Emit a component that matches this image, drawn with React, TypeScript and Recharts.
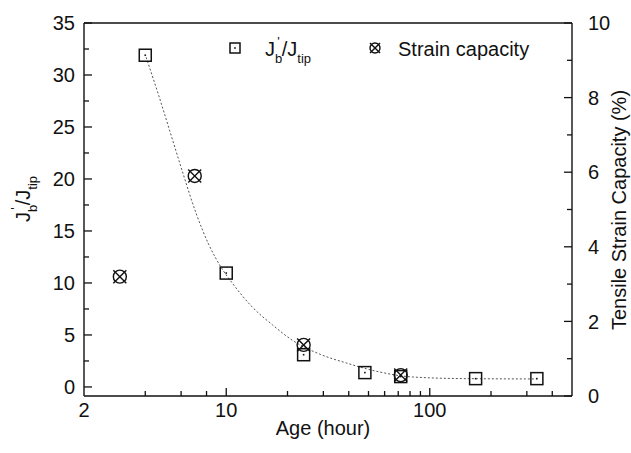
import { ScatterChart, Scatter, XAxis, YAxis, ReferenceLine } from 'recharts'

// J_b'/J_tip vs age (hour)
const ratioAge = [4, 10, 24, 48, 72, 168, 336]
const ratioValue = [31.9, 10.95, 3.1, 1.38, 1.0, 0.8, 0.8]

// tensile strain capacity (%) vs age (hour)
const strainAge = [3, 7, 24, 72]
const strainValue = [3.2, 5.9, 1.37, 0.56]

// dashed fitted curve
const fitAge = [4.04, 4.68, 5.36, 6.07, 7.11, 8.25, 9.44, 10.7, 13.4, 16.9, 21.1, 28.7, 39, 56.7, 82, 150, 336]
const fitValue = [31.7, 27.9, 24.2, 20.8, 16.7, 13.6, 11.5, 10.0, 7.7, 5.96, 4.5, 3.17, 2.3, 1.44, 0.96, 0.8, 0.77]

const xMajor = [2, 10, 100]
const xMinor = [4, 6, 8, 20, 30, 40, 50, 60, 70, 80, 90, 200, 300, 400]
const leftMajor = [0, 5, 10, 15, 20, 25, 30, 35]
const leftMinor = [2.5, 7.5, 12.5, 17.5, 22.5, 27.5, 32.5]
const rightMajor = [0, 2, 4, 6, 8, 10]
const rightMinor = [1, 3, 5, 7, 9]

const ratioData = ratioAge.map((x, i) => ({ x, y: ratioValue[i] }))
const strainData = strainAge.map((x, i) => ({ x, y: strainValue[i] }))
const fitData = fitAge.map((x, i) => ({ x, y: fitValue[i] }))

const FONT = '"Liberation Sans", Arial, sans-serif'
const TICK_FS = 20
const INK = '#111'

const SquareMark = ({ cx, cy, size = 12 }: any) => (
  <g>
    <rect x={cx - size / 2} y={cy - size / 2} width={size} height={size} fill="none" stroke={INK} strokeWidth={1.5} />
    <rect x={cx - 0.8} y={cy - 0.8} width={1.6} height={1.6} fill={INK} />
  </g>
)

const CrossCircle = ({ cx, cy, r = 6.5 }: any) => (
  <g stroke={INK} strokeWidth={1.4} fill="none">
    <circle cx={cx} cy={cy} r={r} />
    <line x1={cx - r} y1={cy - r} x2={cx + r} y2={cy + r} />
    <line x1={cx - r} y1={cy + r} x2={cx + r} y2={cy - r} />
  </g>
)

function BottomTick({ x, y, payload }: any) {
  const v = payload.value
  const major = xMajor.includes(v)
  const ay = y - 8
  return (
    <g>
      {v !== 2 && <line x1={x} x2={x} y1={ay} y2={ay - (major ? 8 : 5)} stroke={INK} strokeWidth={1.3} />}
      {major && (
        <text x={x} y={ay + 21} textAnchor="middle" fontSize={TICK_FS} fontFamily={FONT} fill={INK}>
          {v}
        </text>
      )}
    </g>
  )
}

function LeftTick({ x, y, payload }: any) {
  const v = payload.value
  const major = leftMajor.includes(v)
  const ax = x + 9
  return (
    <g>
      <line x1={ax} x2={ax + (major ? 8 : 5)} y1={y} y2={y} stroke={INK} strokeWidth={1.3} />
      {major && (
        <text x={x} y={y} dy="0.36em" textAnchor="end" fontSize={TICK_FS} fontFamily={FONT} fill={INK}>
          {v}
        </text>
      )}
    </g>
  )
}

function RightTick({ x, y, payload }: any) {
  const v = payload.value
  const major = rightMajor.includes(v)
  const ax = x - 16
  return (
    <g>
      <line x1={ax} x2={ax - (major ? 8 : 5)} y1={y} y2={y} stroke={INK} strokeWidth={1.3} />
      {major && (
        <text x={x} y={y} dy="0.36em" textAnchor="start" fontSize={TICK_FS} fontFamily={FONT} fill={INK}>
          {v}
        </text>
      )}
    </g>
  )
}

const JRatio = () => (
  <>
    J<tspan fontSize={13} dy={7}>b</tspan>
    <tspan fontSize={13} dx={-5} dy={-17}>'</tspan>
    <tspan fontSize={20} dx={2} dy={10}>/J</tspan>
    <tspan fontSize={13} dy={7}>tip</tspan>
  </>
)

export default function App() {
  return (
    <div style={{ position: 'relative', width: 631, height: 453, overflow: 'hidden' }}>
      <style>{'body{margin:0}'}</style>
      <ScatterChart width={631} height={453} margin={{ top: 23, right: 0, bottom: 0, left: 0 }}>
        <XAxis
          type="number"
          dataKey="x"
          scale="log"
          domain={[2, 500]}
          ticks={[...xMajor, ...xMinor]}
          interval={0}
          height={57}
          tickSize={0}
          tickMargin={8}
          tickLine={false}
          tick={<BottomTick />}
          axisLine={{ stroke: INK, strokeWidth: 1.4 }}
          allowDataOverflow
        />
        <YAxis
          yAxisId="left"
          type="number"
          dataKey="y"
          domain={[-0.87, 35]}
          ticks={[...leftMajor, ...leftMinor]}
          interval={0}
          width={84}
          tickSize={0}
          tickMargin={9}
          tickLine={false}
          tick={<LeftTick />}
          axisLine={{ stroke: INK, strokeWidth: 1.4 }}
          allowDataOverflow
        />
        <YAxis
          yAxisId="right"
          orientation="right"
          type="number"
          dataKey="y"
          domain={[0, 10]}
          ticks={[...rightMajor, ...rightMinor]}
          interval={0}
          width={59}
          tickSize={0}
          tickMargin={16}
          tickLine={false}
          tick={<RightTick />}
          axisLine={{ stroke: INK, strokeWidth: 1.4 }}
          allowDataOverflow
        />
        <ReferenceLine yAxisId="left" y={35} stroke={INK} strokeWidth={1.4} />
        <Scatter
          yAxisId="left"
          data={fitData}
          line={{ stroke: '#555', strokeWidth: 1, strokeDasharray: '2 2' }}
          lineJointType="monotoneX"
          shape={() => <g />}
          isAnimationActive={false}
        />
        <Scatter yAxisId="left" data={ratioData} shape={(p: any) => <SquareMark cx={p.cx} cy={p.cy} />} isAnimationActive={false} />
        <Scatter yAxisId="right" data={strainData} shape={(p: any) => <CrossCircle cx={p.cx} cy={p.cy} />} isAnimationActive={false} />
      </ScatterChart>
      <svg
        width={631}
        height={453}
        style={{ position: 'absolute', left: 0, top: 0, pointerEvents: 'none' }}
        fontFamily={FONT}
        fill={INK}
      >
        {/* legend */}
        <SquareMark cx={235} cy={48} size={10} />
        <text x={265} y={56} fontSize={20}>
          <JRatio />
        </text>
        <CrossCircle cx={375} cy={48} r={5} />
        <text x={398} y={56} fontSize={20}>
          Strain capacity
        </text>
        {/* axis titles */}
        <text x={323} y={435} fontSize={20} textAnchor="middle">
          Age (hour)
        </text>
        <text x={30} y={199} fontSize={20} textAnchor="middle" transform="rotate(-90 30 199)">
          <JRatio />
        </text>
        <text x={626} y={210} fontSize={20} textAnchor="middle" transform="rotate(-90 626 210)">
          Tensile Strain Capacity (%)
        </text>
      </svg>
    </div>
  )
}
